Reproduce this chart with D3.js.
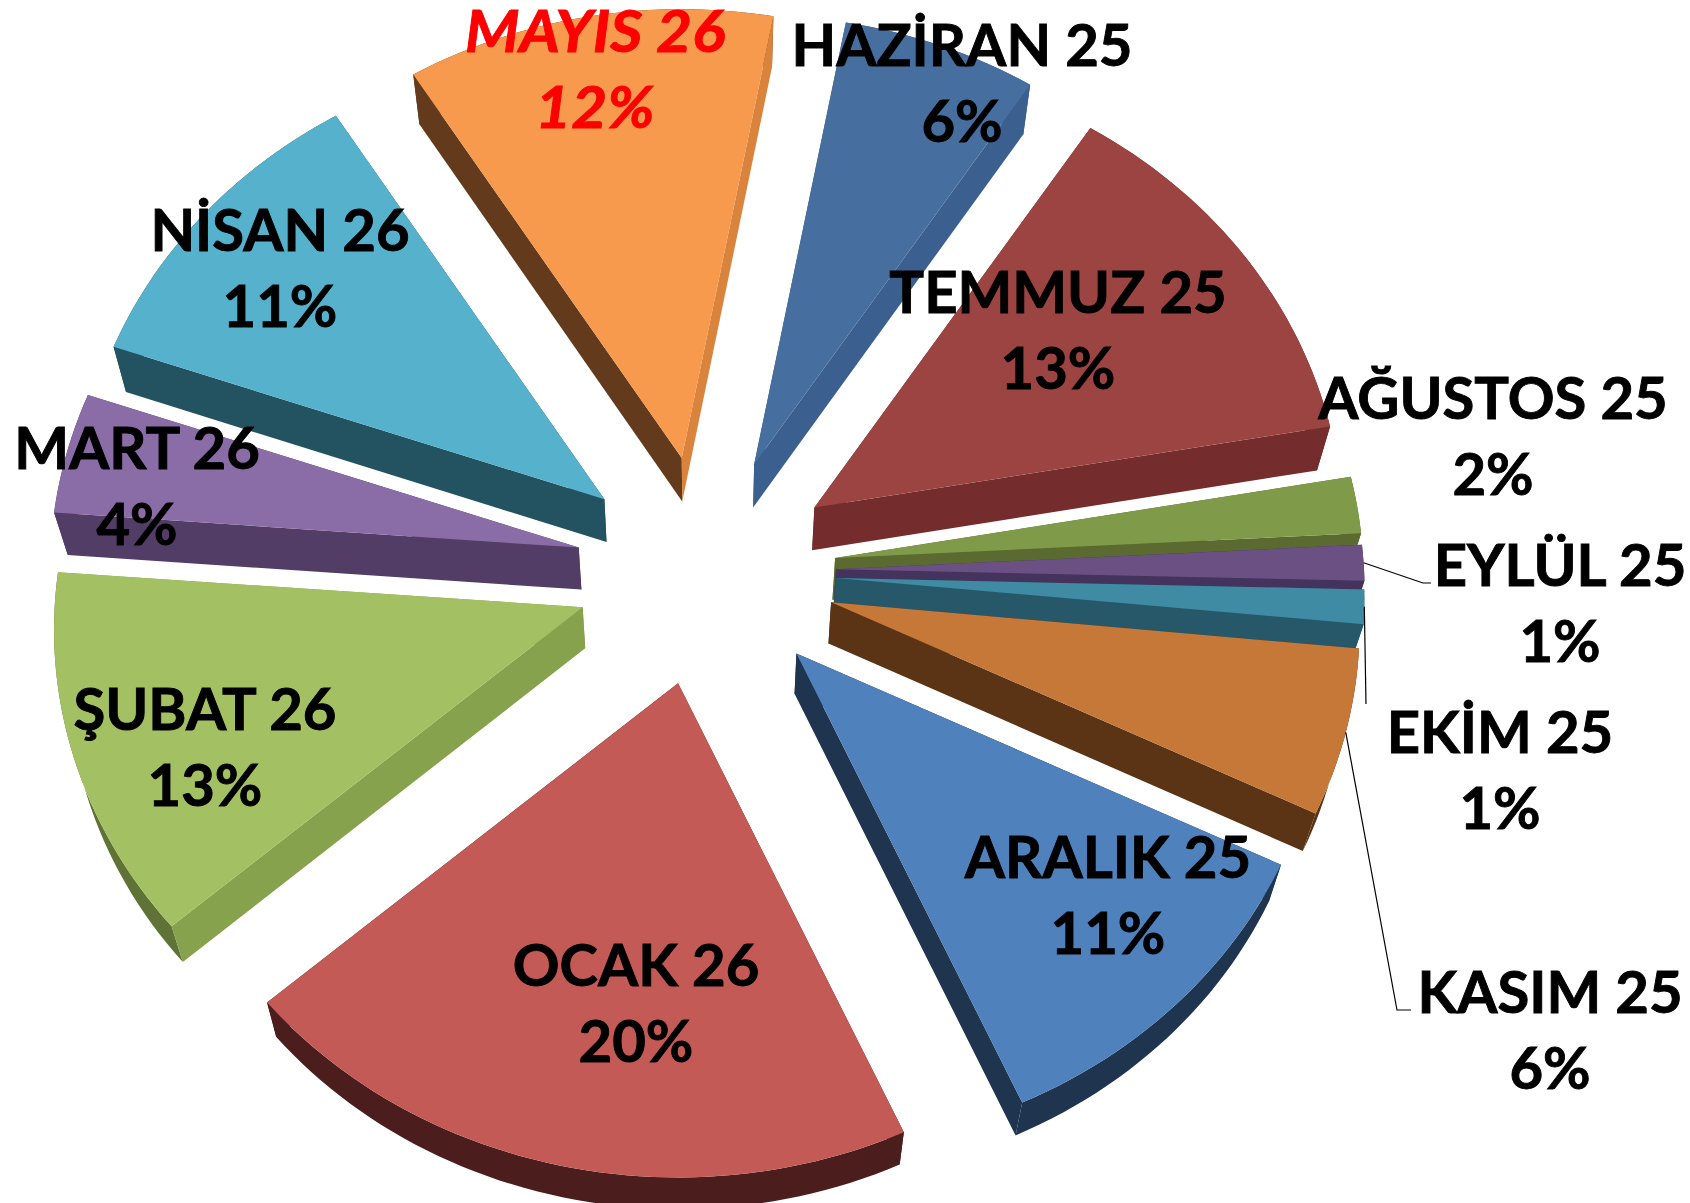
<!DOCTYPE html>
<html>
<head>
<meta charset="utf-8">
<script src="https://cdn.jsdelivr.net/npm/d3@7"></script>
<style>
  html, body { margin: 0; background: #fff; }
  text { font-family: Lato, sans-serif; font-weight: 700; text-anchor: middle; stroke-width: 0.9px; }
</style>
</head>
<body>
<script>
const months = ["HAZİRAN 25", "TEMMUZ 25", "AĞUSTOS 25", "EYLÜL 25", "EKİM 25", "KASIM 25",
    "ARALIK 25", "OCAK 26", "ŞUBAT 26", "MART 26", "NİSAN 26", "MAYIS 26"];
// labels show them rounded
const shares = [6.25, 13.06, 1.94, 1.22, 1.17, 5.67, 11.06, 20.33, 12.58, 4.14, 10.78, 11.81];

const topColors = ["#466f9f", "#9b4442", "#7f9a48", "#6a5083", "#3e8ba3", "#c57838",
    "#4f81bd", "#c35a56", "#a3c062", "#8a6ca7", "#55b1cc", "#f79a4e"];
const darkWalls = ["#3b5f8e", "#742c2d", "#5a6a30", "#44335c", "#26586a", "#5a3415",
    "#1f344f", "#4c1d1d", "#5f7336", "#513d65", "#235361", "#643a1c"];
const lightWalls = ["#3b5f8e", "#742c2d", "#5a6a30", "#44335c", "#26586a", "#5a3415",
    "#1f344f", "#4c1d1d", "#87a24c", "#513d65", "#235361", "#d9833d"];

// label anchors: centre x, first baseline
const labelX = [962, 1058, 1493, 1560, 1500, 1550, 1108, 636, 205, 137, 280, 595];
const labelY = [66, 313, 419, 586, 753, 1013, 878, 986, 730, 469, 251, 52];

const width = 1690, height = 1203;
const cx = 706, cy = 571;
const radius = 528, tilt = 0.893, persp = 0.048;
const explodeX = 130, explodeY = 115;
const wallX = 0.021, wallY = 0.0165, vanishY = 3092;
const lineStep = 76, fontSize = 58;

const svg = d3.select("body").append("svg")
    .attr("width", width)
    .attr("height", height);

const pie = d3.pie().sort(null)
    .startAngle(10.5 * Math.PI / 180)
    .endAngle(370.5 * Math.PI / 180);

// apex of an exploded slice
function apexOf(d) {
    const mid = (d.startAngle + d.endAngle) / 2;
    return [cx + explodeX * Math.sin(mid), cy - explodeY * Math.cos(mid)];
}

function rimPoint(d, a) {
    const apex = apexOf(d);
    const s = 1 - persp * Math.cos(a);
    return [apex[0] + radius * s * Math.sin(a), apex[1] - radius * tilt * s * Math.cos(a)];
}

// same point on the underside of the pie
function lower(p) {
    return [p[0] + wallX * (cx - p[0]), p[1] + wallY * (vanishY - p[1])];
}

function rimArc(d) {
    const n = Math.max(4, Math.ceil((d.endAngle - d.startAngle) * 40));
    return d3.range(n + 1).map(i => rimPoint(d, d.startAngle + (d.endAngle - d.startAngle) * i / n));
}

const line = d3.line();
const arcs = pie(shares);
const slices = arcs.slice()
    .sort((a, b) => Math.cos((b.startAngle + b.endAngle) / 2) - Math.cos((a.startAngle + a.endAngle) / 2));

slices.forEach(d => {
    const g = svg.append("g");
    const i = d.index;
    const apex = apexOf(d);
    const rim = rimArc(d);
    const first = rim[0], last = rim[rim.length - 1];
    const faceColor = normal => Math.sin(normal) > 0 ? lightWalls[i] : darkWalls[i];
    const mid = (d.startAngle + d.endAngle) / 2;

    g.append("path")
        .attr("d", line(rim.concat(rim.map(lower).reverse())) + "Z")
        .attr("fill", faceColor(mid));
    g.append("path")
        .attr("d", line([apex, first, lower(first), lower(apex)]) + "Z")
        .attr("fill", faceColor(d.startAngle - Math.PI / 2));
    g.append("path")
        .attr("d", line([apex, last, lower(last), lower(apex)]) + "Z")
        .attr("fill", faceColor(d.endAngle + Math.PI / 2));
    g.append("path")
        .attr("d", line([apex].concat(rim)) + "Z")
        .attr("fill", topColors[i]);
});

// leader lines for the small slices
const leader = (d, pts) => svg.append("path")
    .attr("d", line([rimPoint(d, (d.startAngle + d.endAngle) / 2)].concat(pts)))
    .attr("fill", "none")
    .attr("stroke", "#000")
    .attr("stroke-width", 1.2);
leader(arcs[3], [[1423, 583], [1431, 583]]);
leader(arcs[4], [[1366, 704]]);
leader(arcs[5], [[1397, 1010], [1411, 1010]]);

months.forEach((m, i) => {
    const isMayis = m === "MAYIS 26";
    const color = isMayis ? "#ff0000" : "#000";
    [m, d3.format(".0f")(shares[i]) + "%"].forEach((s, j) => {
        const t = svg.append("text")
            .attr("x", labelX[i])
            .attr("y", labelY[i] + j * lineStep)
            .attr("font-size", fontSize)
            .attr("font-style", isMayis ? "italic" : null)
            .attr("fill", color)
            .attr("stroke", color)
            .text(s);
        // the red label runs wider than the others
        if (isMayis) {
            t.attr("lengthAdjust", "spacingAndGlyphs")
                .attr("textLength", t.node().getComputedTextLength() * 1.07);
        }
    });
});
</script>
</body>
</html>
